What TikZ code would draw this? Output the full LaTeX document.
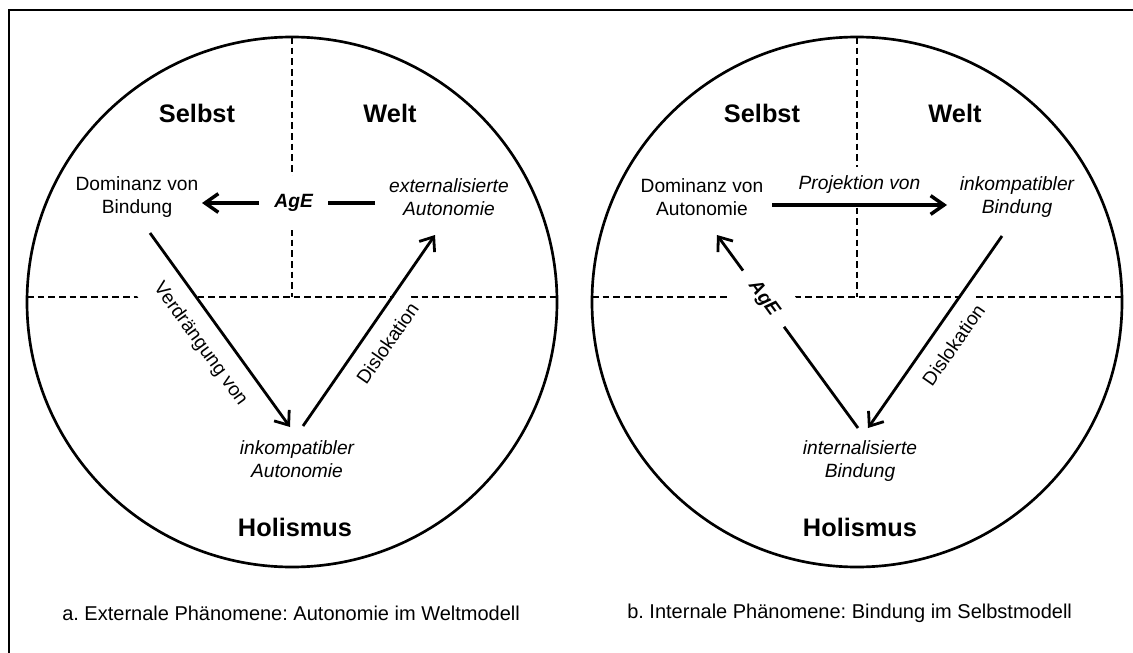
\documentclass[tikz,border=0pt]{standalone}
\usepackage{fontspec}
\setmainfont{Liberation Sans}
\usetikzlibrary{arrows.meta,calc}
\frenchspacing
\begin{document}
\begin{tikzpicture}[x=0.75pt,y=-0.75pt,
  txt/.style={inner sep=0pt, align=center, font=\fontsize{14.4}{17.3}\selectfont},
  itxt/.style={inner sep=0pt, align=center, font=\fontsize{14.4}{17.3}\selectfont\itshape},
  head/.style={inner sep=0pt, font=\fontsize{19}{22}\selectfont\bfseries},
  caption/.style={inner sep=0pt, anchor=west, font=\fontsize{15}{18}\selectfont},
  ring/.style={line width=2pt},
  divider/.style={line width=1.2pt, dash pattern=on 5pt off 3pt},
  flow/.style={line width=2.1pt, -{Straight Barb[length=9pt,width=14pt]}},
  hflow/.style={line width=2.6pt, -{Straight Barb[length=10pt,width=14pt]}},
  sidelbl/.style={fill=white, behind path, inner xsep=3pt, inner ysep=10.5pt,
    font=\fontsize{14.4}{17.3}\selectfont},
  toplbl/.style={fill=white, behind path, inner xsep=3pt, inner ysep=7pt,
    font=\fontsize{14.4}{17.3}\selectfont\itshape},
  agebox/.style={fill=white, inner sep=0pt, minimum width=52pt, minimum height=40pt,
    font=\fontsize{14.4}{17.3}\selectfont\bfseries\itshape}]

\useasboundingbox (0,0) rectangle (1133,653);

% frame
\draw[line width=1.7pt] (9,660) -- (9,10) -- (1140,10);

% ---------- panel a ----------
\draw[ring] (292,302) circle[radius=265];
\draw[divider] (27,297) -- (557,297);
\draw[divider] (292,37) -- (292,297);

\node[head] (selbstA) at (197,113) {Selbst};
\node[head] (weltA) at (390,113) {Welt};
\node[txt] (domA) at (137,197) {Dominanz von\\Bindung};
\node[itxt] (extA) at (449,197) {externalisierte\\Autonomie};
\node[itxt] (inkA) at (297,459) {inkompatibler\\Autonomie};
\node[head] (holA) at (295,527) {Holismus};
\node[caption] (capA) at (62,613) {a. Externale Phänomene: Autonomie im Weltmodell};

\draw[hflow] ($(extA)+(-74,6)$) -- node[agebox, pos=0.47] {AgE} ($(domA)+(65,6)$);
\draw[flow] ($(domA)+(13,36)$) -- node[sidelbl, midway, sloped, below] {Verdrängung von} ($(inkA)+(-7,-32)$);
\draw[flow] ($(inkA)+(6,-33)$) -- node[sidelbl, midway, sloped, below] {Dislokation} ($(extA)+(-14,38)$);

% ---------- panel b ----------
\draw[ring] (857,302) circle[radius=265];
\draw[divider] (592,297) -- (1122,297);
\draw[divider] (857,37) -- (857,297);

\node[head] (selbstB) at (762,113) {Selbst};
\node[head] (weltB) at (955,113) {Welt};
\node[txt] (domB) at (702,197) {Dominanz von\\Autonomie};
\node[itxt] (inkB) at (1017,197) {inkompatibler\\Bindung};
\node[itxt] (intB) at (860,461) {internalisierte\\Bindung};
\node[head] (holB) at (860,527) {Holismus};
\node[caption] (capB) at (627,613) {b. Internale Phänomene: Bindung im Selbstmodell};

\draw[hflow] ($(domB)+(70,8)$) -- node[toplbl, midway, above] {Projektion von} ($(inkB)+(-70,8)$);
\draw[flow] ($(intB)+(-2,-33)$) -- node[agebox, pos=0.67, sloped] {AgE} ($(domB)+(15,38)$);
\draw[flow] ($(inkB)+(-15,39)$) -- node[sidelbl, midway, sloped, below] {Dislokation} ($(intB)+(8,-33)$);

\end{tikzpicture}
\end{document}
